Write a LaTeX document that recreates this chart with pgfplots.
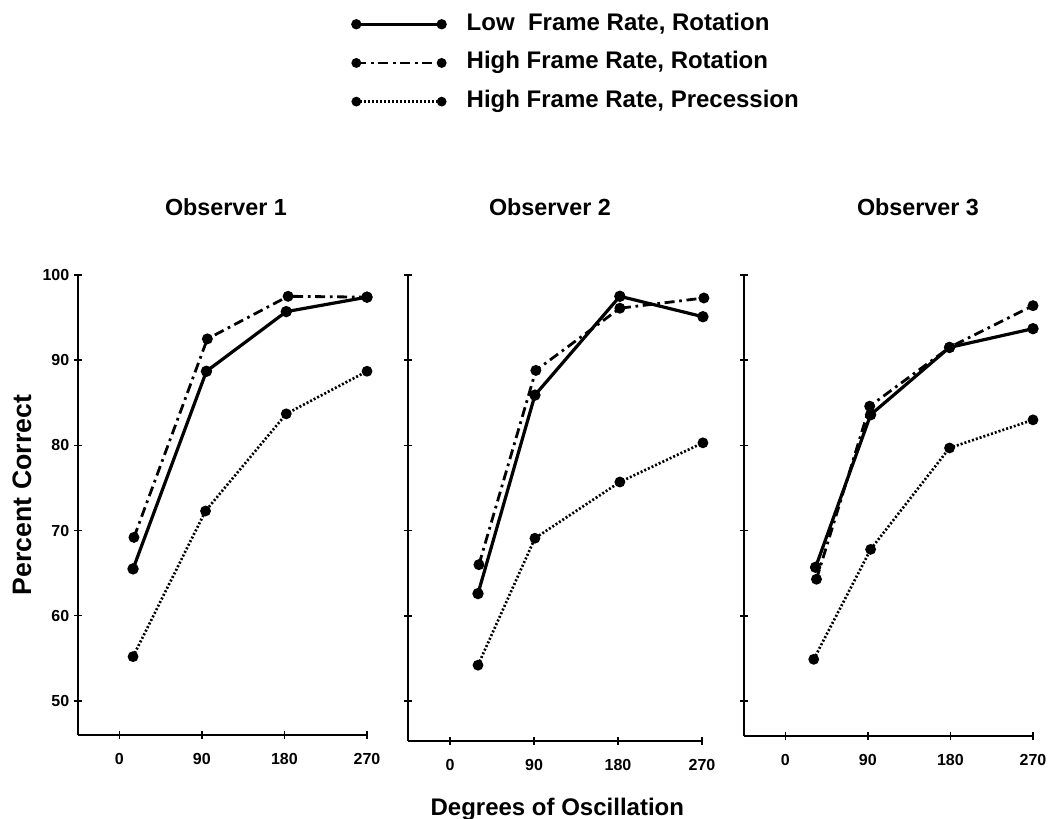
\documentclass[border=0pt]{standalone}
\usepackage{fontspec}
\setmainfont{Liberation Sans}
\usepackage{pgfplots}
\pgfplotsset{compat=1.18}

\pgfplotsset{
  obs/.style={
    scale only axis,
    anchor=south west,
    axis x line*=bottom,
    axis y line*=left,
    axis line style={line width=1.5pt},
    xmin=-45, xmax=270, ymax=100,
    xtick={0,90,180,270},
    ytick={50,60,70,80,90,100},
    tick align=center,
    major tick length=6pt,
    tick style={line width=1.1pt, black},
    /pgf/number format/assume math mode=true,
    ticklabel style={font=\fontsize{12}{12}\selectfont\bfseries},
    xticklabel style={yshift=-7pt},
    clip=false,
  },
  lowrot/.style={black, line width=2.4pt, solid, mark=*, mark size=3pt, mark options={solid}},
  hirot/.style={black, line width=2.1pt, dash pattern=on 7.5pt off 3.5pt on 2pt off 3.5pt, mark=*, mark size=3pt, mark options={solid}},
  hiprec/.style={black, line width=2pt, dash pattern=on 1.5pt off 1.5pt, mark=*, mark size=3pt, mark options={solid}},
  legend image code/.code={
    \draw[#1, mark=none] (0pt,0pt) -- (64pt,0pt);
    \fill[solid] (0pt,0pt) circle (2.6pt);
    \fill[solid] (64pt,0pt) circle (2.6pt);
  },
}

\begin{document}
\begin{tikzpicture}
\useasboundingbox (0,0) rectangle (786.75pt,613.5pt);

% Observer 1
\begin{axis}[obs,
    at={(58.5pt,62.25pt)}, width=216.75pt, height=345pt, ymin=46,
    legend style={draw=none, fill=none, inner sep=0pt,
      at={(axis description cs:0.9446,1.461)}, anchor=west,
      font=\fontsize{18}{18}\selectfont\bfseries,
      row sep=12pt, column sep=15pt,
      nodes={inner sep=0pt, text height=13pt, text depth=4pt}},
    legend cell align=left,
]
\addplot[lowrot] coordinates {(15,65.5) (95,88.7) (182,95.7) (270,97.4)};
\addplot[hirot] coordinates {(16,69.2) (96,92.5) (184,97.5) (270,97.4)};
\addplot[hiprec] coordinates {(15,55.2) (94,72.3) (182,83.7) (270,88.7)};
\legend{{Low\ \ Frame Rate, Rotation}, {High Frame Rate, Rotation}, {High Frame Rate, Precession}}
\end{axis}

% Observer 2
\begin{axis}[obs,
    at={(306pt,57.75pt)}, width=220.5pt, height=349.5pt, ymin=45.3,
    yticklabels={},
]
\addplot[lowrot] coordinates {(30,62.6) (91,85.9) (182,97.5) (271,95.1)};
\addplot[hirot] coordinates {(31,66.0) (92,88.8) (182,96.1) (272,97.3)};
\addplot[hiprec] coordinates {(30,54.2) (91,69.1) (182,75.7) (271,80.3)};
\end{axis}

% Observer 3
\begin{axis}[obs,
    at={(558pt,61.5pt)}, width=216.75pt, height=345.75pt, ymin=45.9,
    yticklabels={},
]
\addplot[lowrot] coordinates {(33,65.7) (93,83.6) (179,91.5) (270,93.7)};
\addplot[hirot] coordinates {(34,64.3) (92,84.6) (179,91.5) (270,96.4)};
\addplot[hiprec] coordinates {(31,54.9) (93,67.8) (179,79.7) (270,83.0)};
\end{axis}

\node[font=\fontsize{17.5}{18}\selectfont\bfseries] at (169.5pt,458.25pt) {Observer 1};
\node[font=\fontsize{17.5}{18}\selectfont\bfseries] at (412.5pt,458.25pt) {Observer 2};
\node[font=\fontsize{17.5}{18}\selectfont\bfseries] at (688.5pt,458.25pt) {Observer 3};
\node[rotate=90, font=\fontsize{20}{20}\selectfont\bfseries] at (16.5pt,242.25pt) {Percent Correct};
\node[anchor=base, font=\fontsize{18}{18}\selectfont\bfseries] at (418pt,2.25pt) {Degrees of Oscillation};
\end{tikzpicture}
\end{document}
